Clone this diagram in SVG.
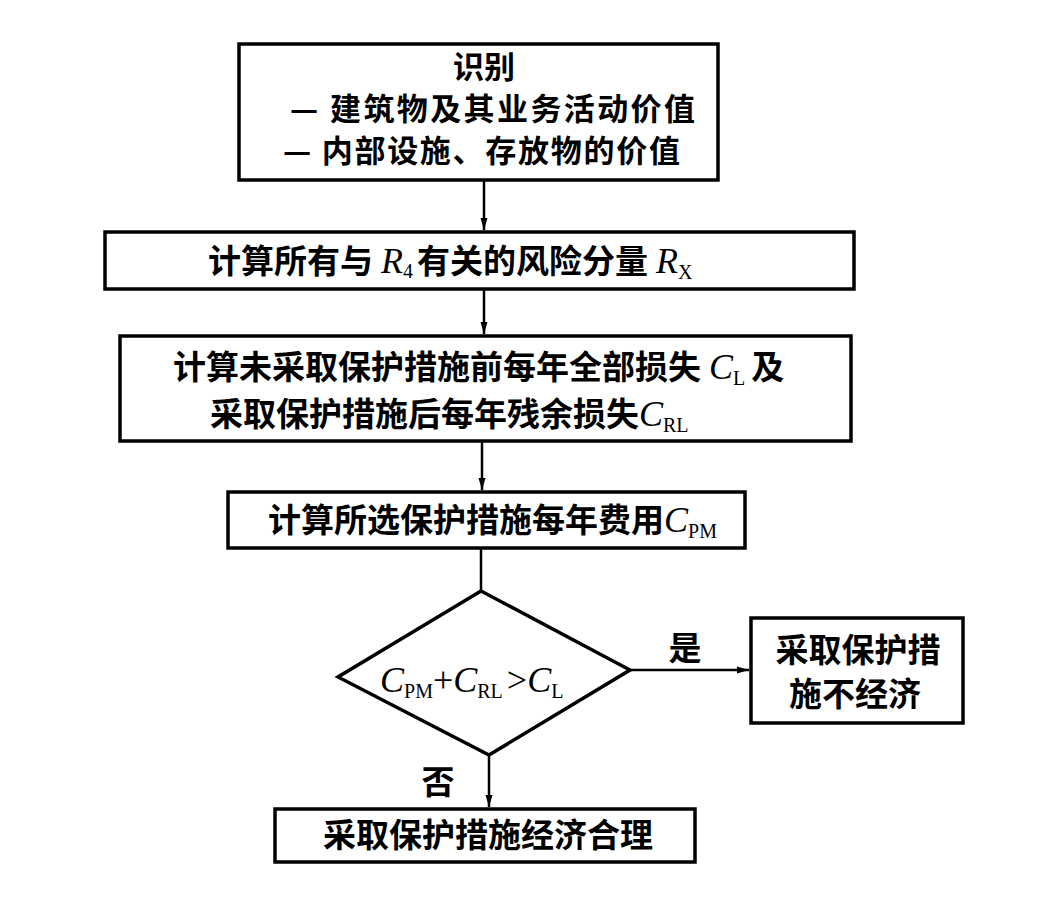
<svg xmlns="http://www.w3.org/2000/svg" width="1043" height="905" viewBox="0 0 1043 905">
<style>
.box{fill:none;stroke:#000;stroke-width:3.5}
.cn{font-family:"Noto Sans CJK SC","Noto Sans CJK TC",sans-serif;font-weight:bold;font-size:33px;fill:#000}
.cn1{font-size:31px}
.it{font-family:"Liberation Serif",serif;font-style:italic;font-weight:normal;font-size:36px}
.sub{font-family:"Liberation Serif",serif;font-style:normal;font-weight:normal;font-size:20px}
.con{fill:none;stroke:#000;stroke-width:2.5}
</style>
<defs>
<marker id="ah" viewBox="0 0 12 8" refX="12" refY="4" markerWidth="12" markerHeight="8" markerUnits="userSpaceOnUse" orient="auto">
<path d="M0,0.5 L12,4 L0,7.5 Z" fill="#000"/>
</marker>
</defs>
<rect width="1043" height="905" fill="#fff"/>
<g id="connectors">
<line class="con" x1="484" y1="180" x2="484" y2="230" marker-end="url(#ah)"/>
<line class="con" x1="484" y1="289" x2="484" y2="334" marker-end="url(#ah)"/>
<line class="con" x1="482" y1="441" x2="482" y2="490" marker-end="url(#ah)"/>
<line class="con" x1="481" y1="548" x2="481" y2="590"/>
<line class="con" x1="630" y1="670" x2="749" y2="670" marker-end="url(#ah)"/>
<line class="con" x1="489" y1="755" x2="489" y2="807" marker-end="url(#ah)"/>
</g>
<g id="n1">
<rect class="box" x="239" y="44" width="479" height="136"/>
<text class="cn cn1" x="484" y="78" text-anchor="middle">识别</text>
<text class="cn cn1" x="290" y="120" textLength="405">— 建筑物及其业务活动价值</text>
<text class="cn cn1" x="283" y="162" textLength="397">— 内部设施、存放物的价值</text>
</g>
<g id="n2">
<rect class="box" x="105" y="232" width="749" height="57"/>
<text class="cn" x="208" y="273">计算所有与<tspan class="it" dx="8">R</tspan><tspan class="sub" dy="5">4</tspan><tspan dy="-5" dx="4">有关的风险分量</tspan><tspan class="it" dx="8">R</tspan><tspan class="sub" dy="6">X</tspan></text>
</g>
<g id="n3">
<rect class="box" x="120" y="336" width="731" height="105"/>
<text class="cn" x="173" y="379">计算未采取保护措施前每年全部损失<tspan class="it" dx="8">C</tspan><tspan class="sub" dy="6">L</tspan><tspan dy="-6" dx="6">及</tspan></text>
<text class="cn" x="210" y="426">采取保护措施后每年残余损失<tspan class="it">C</tspan><tspan class="sub" dy="6">RL</tspan></text>
</g>
<g id="n4">
<rect class="box" x="228" y="492" width="517" height="56"/>
<text class="cn" x="268" y="532">计算所选保护措施每年费用<tspan class="it">C</tspan><tspan class="sub" dy="6">PM</tspan></text>
</g>
<g id="n5">
<polygon class="box" points="481,591 630,670 489,755 338,677"/>
<text class="it" x="380" y="692">C<tspan class="sub" dy="6">PM</tspan><tspan style="font-style:normal" dy="-6">+</tspan>C<tspan class="sub" dy="6">RL</tspan><tspan style="font-style:normal" dy="-6" dx="4">&gt;</tspan>C<tspan class="sub" dy="6">L</tspan></text>
</g>
<text class="cn" x="685" y="660" text-anchor="middle">是</text>
<text class="cn" x="438" y="794" text-anchor="middle">否</text>
<g id="n6">
<rect class="box" x="751" y="618" width="212" height="105"/>
<text class="cn" x="858" y="662" text-anchor="middle">采取保护措</text>
<text class="cn" x="855" y="706" text-anchor="middle">施不经济</text>
</g>
<g id="n7">
<rect class="box" x="275" y="809" width="420" height="53"/>
<text class="cn" x="488" y="847" text-anchor="middle">采取保护措施经济合理</text>
</g>
</svg>
